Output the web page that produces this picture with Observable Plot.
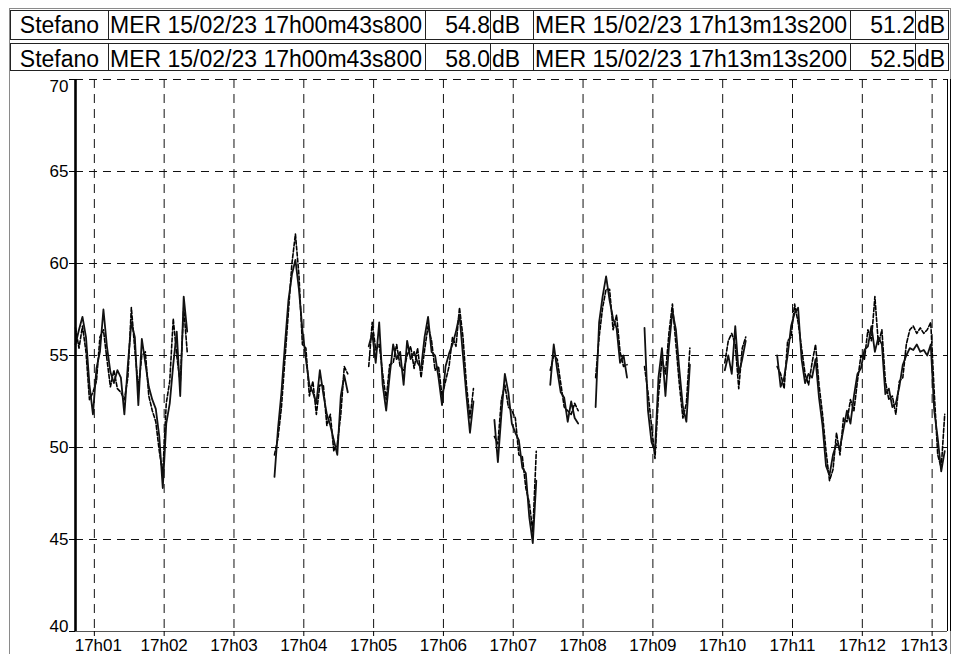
<!DOCTYPE html>
<html><head><meta charset="utf-8">
<script src="https://cdn.jsdelivr.net/npm/d3@7"></script>
<script src="https://cdn.jsdelivr.net/npm/@observablehq/plot@0.6"></script>
<style>
html,body{margin:0;padding:0;background:#fff;}
#wrap{position:relative;width:953px;height:654px;overflow:hidden;font-family:"Liberation Sans",Arial,sans-serif;background:#fff;}
.frame{position:absolute;left:9px;top:8px;width:942px;height:700px;border:1px solid #8a8a8a;box-sizing:border-box;}
.cell{position:absolute;box-sizing:border-box;border:1px solid #222;font-size:23px;white-space:nowrap;color:#000;background:#fff;}
#chart{position:absolute;left:0;top:76px;}
</style></head>
<body><div id="wrap"><div class="frame"></div><div id="chart"></div></div>
<script>
// ---- header (cursor read-outs) ----
const channelNames = ["Stefano", "Stefano"];
const cursorTimes = ["MER 15/02/23 17h00m43s800", "MER 15/02/23 17h13m13s200"];
const cursorValuesRow1 = ["54.8", "51.2"];
const cursorValuesRow2 = ["58.0", "52.5"];
const unit = "dB";

// ---- axes ----
const yTicks = [40, 45, 50, 55, 60, 65, 70];
const minuteTicks = [60, 120, 180, 240, 300, 360, 420, 480, 540, 600, 660, 720, 780]; // seconds after 17h00
const tickLabels = ["17h01","17h02","17h03","17h04","17h05","17h06","17h07","17h08","17h09","17h10","17h11","17h12","17h13"];
const timeStart = 43.8;   // 17h00m43s800
const timeEnd = 793.2;    // 17h13m13s200
const sampleStep = 3;     // seconds between samples

// ---- data: segments of level samples (dB), gaps between segments ----
const segStart = [0, 57, 84, 120, 136, 149, 163, 186, 201]; // sample index of each segment
const levelA = [
  [55.6,56.4,57.1,56.0,53.4,51.8,54.3,55.2,57.5,55.5,54.1,53.5,54.2,53.8,51.8,54.5,56.8,56.0,52.3,55.9,54.6,53.3,52.6,52.1,50.6,47.8,51.3,52.4,54.5,56.3,52.8,58.2,56.3],
  [48.4,51.0,53.0,55.6,58.0,59.4,60.2,58.6,56.4,54.8,53.4,53.0,52.4,54.2,52.9,51.8,51.2,50.4,49.6,52.8,53.9,53.0],
  [55.5,56.2,54.6,56.8,53.4,52.0,53.9,55.6,54.8,55.2,53.4,55.8,54.8,55.2,54.6,54.3,56.0,57.1,55.2,55.0,53.8,52.3,54.4,55.1,55.6,56.3,57.2,55.0,52.8,50.8,52.5],
  [51.5,49.2,51.8,54.0,53.0,51.3,50.8,50.4,48.9,48.6,46.2,44.8,48.2],
  [53.4,55.6,54.2,53.0,52.7,51.4,52.5,51.6,51.3],
  [52.2,56.8,58.2,59.3,58.0,57.0,56.5,54.6,55.0,53.8],
  [56.5,52.0,50.3,49.8,53.8,55.4,52.8,55.5,57.4,56.4,54.2,52.2,51.4,54.5],
  [54.2,55.0,54.0,56.6,54.0,54.8,55.8],
  [55.0,53.3,53.8,55.0,56.6,57.3,57.6,54.8,53.5,54.0,53.8,54.8,52.7,51.2,49.0,48.5,49.6,50.2,50.0,51.0,52.0,51.3,52.8,54.0,54.3,55.3,55.5,56.6,55.2,56.0,55.6,52.9,53.2,52.2,52.4,53.3,54.5,55.0,55.4,55.3,55.6,55.2,55.3,55.0,55.6,52.0,50.5,48.7,49.8]
];
const levelB = [
  [56.5,55.4,56.6,55.2,52.6,53.0,53.6,56.0,56.4,54.8,53.3,54.2,53.2,53.0,52.6,53.8,57.6,55.3,53.2,55.0,55.2,52.8,52.0,51.4,49.8,48.6,52.4,53.6,57.0,55.0,53.5,57.6,55.2],
  [49.6,50.5,52.2,54.8,57.4,60.0,61.6,59.4,55.6,55.4,52.8,53.6,51.8,53.4,53.4,51.2,51.8,49.8,50.2,51.8,54.4,54.0],
  [54.4,56.8,55.3,55.6,54.0,52.6,54.5,54.6,55.6,54.4,54.2,55.0,55.5,54.3,55.4,53.8,55.3,56.6,55.8,54.2,54.4,52.8,53.6,54.4,56.0,55.5,57.6,56.0,53.4,51.6,53.2],
  [50.6,50.2,52.6,53.4,52.2,52.0,51.6,49.6,49.5,47.8,47.0,45.4,49.8],
  [54.2,55.0,54.8,53.5,52.2,52.0,51.8,52.4,52.0],
  [53.8,56.0,57.6,58.6,58.6,56.4,57.2,55.2,54.4,54.5],
  [54.4,53.0,51.2,49.4,52.8,54.8,54.0,56.2,57.8,55.6,53.4,51.6,52.4,55.4],
  [54.6,55.8,56.2,55.6,53.2,55.4,56.0],
  [54.4,54.0,53.2,55.8,56.0,57.8,56.8,55.4,54.0,53.4,54.6,55.6,53.4,51.8,49.8,48.2,48.8,50.8,49.6,51.6,51.4,52.6,52.0,53.6,55.0,54.8,56.4,55.8,58.2,55.6,56.4,53.6,52.6,52.8,51.8,53.6,53.8,55.6,56.4,56.6,56.2,56.5,56.2,56.4,56.8,53.0,49.6,48.9,51.8]
];

function toRows(levels) {
  const rows = [];
  levels.forEach((seg, k) => seg.forEach((v, j) =>
    rows.push({t: timeStart + (segStart[k] + j) * sampleStep, v, seg: k})));
  return rows;
}
const dataA = toRows(levelA);
const dataB = toRows(levelB);

// ---- build header ----
const wrap = document.getElementById("wrap");
const colEdges = [10, 108, 425, 490, 533, 850, 915, 948];
const aligns = ["center", "left", "right", "left", "left", "right", "left"];
const rowTops = [10, 43];
const rowHeights = [30, 28];
const rowLine = [28, 30];
[cursorValuesRow1, cursorValuesRow2].forEach((vals, r) => {
  const texts = [channelNames[r], cursorTimes[0], vals[0], unit, cursorTimes[1], vals[1], unit];
  texts.forEach((txt, c) => {
    const d = document.createElement("div");
    d.className = "cell";
    d.style.left = colEdges[c] + "px";
    d.style.width = (colEdges[c + 1] - colEdges[c] + 1) + "px";
    d.style.top = rowTops[r] + "px";
    d.style.height = rowHeights[r] + "px";
    d.style.lineHeight = rowLine[r] + "px";
    d.style.textAlign = aligns[c];
    d.style.paddingLeft = aligns[c] === "left" ? "1px" : "0";
    d.textContent = txt;
    wrap.appendChild(d);
  });
});

// ---- chart ----
const fmt = s => tickLabels[minuteTicks.indexOf(s)];
const midY = yTicks.slice(1, -1);
const chart = Plot.plot({
  width: 953, height: 578,
  marginLeft: 75, marginRight: 6, marginTop: 3, marginBottom: 23,
  x: {type: "linear", domain: [timeStart, timeEnd], label: null},
  y: {domain: [40, 70], label: null},
  style: {fontFamily: '"Liberation Sans", Arial, sans-serif', fontSize: "17px", color: "#000", background: "transparent", overflow: "visible"},
  marks: [
    Plot.ruleY(yTicks.slice(1), {stroke: "#111", strokeDasharray: "8,6", strokeWidth: 1}),
    Plot.ruleX(minuteTicks, {stroke: "#111", strokeDasharray: "9,6", strokeWidth: 1}),
    Plot.ruleY([40], {stroke: "#555", strokeWidth: 1}),
    Plot.line(dataB, {x: "t", y: "v", z: "seg", stroke: "#000", strokeWidth: 1.6, strokeDasharray: "4,2"}),
    Plot.line(dataA, {x: "t", y: "v", z: "seg", stroke: "#111", strokeWidth: 1.8}),
    Plot.ruleX([timeStart], {stroke: "#000", strokeWidth: 2.6}),
    Plot.ruleX([timeEnd], {stroke: "#000", strokeWidth: 1}),
    Plot.ruleX([timeEnd], {stroke: "#000", strokeWidth: 1, dx: 3}),
    Plot.axisX({ticks: minuteTicks, tickSize: 5, tickFormat: () => "", label: null}),
    Plot.axisX({ticks: minuteTicks.slice(1, -1), tickSize: 0, tickPadding: 7, tickFormat: fmt, fontSize: 17, label: null}),
    Plot.axisX({ticks: [minuteTicks[0]], tickSize: 0, tickPadding: 7, tickFormat: fmt, fontSize: 17, dx: 4, label: null}),
    Plot.axisX({ticks: [minuteTicks[minuteTicks.length - 1]], tickSize: 0, tickPadding: 7, tickFormat: fmt, fontSize: 17, dx: -8, label: null}),
    Plot.axisY({ticks: yTicks, tickSize: 6, tickPadding: 1, tickFormat: () => "", label: null}),
    Plot.axisY({ticks: midY, tickSize: 0, tickPadding: 7, fontSize: 17, label: null}),
    Plot.axisY({ticks: [70], tickSize: 0, tickPadding: 7, fontSize: 17, dy: 7, label: null}),
    Plot.axisY({ticks: [40], tickSize: 0, tickPadding: 7, fontSize: 17, dy: -5, label: null})
  ]
});
document.getElementById("chart").appendChild(chart);
</script></body></html>
